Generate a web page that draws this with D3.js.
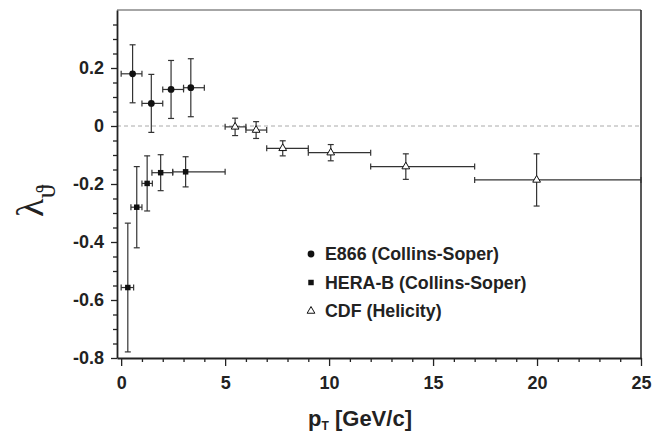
<!DOCTYPE html>
<html>
<head>
<meta charset="utf-8">
<script src="https://cdn.jsdelivr.net/npm/d3@7"></script>
<style>
  body { margin: 0; background: #fff; }
  svg { display: block; }
  .tick text { font-family: "Liberation Sans", Arial, sans-serif; font-weight: bold; font-size: 18px; fill: #222; }
</style>
</head>
<body>
<script>
// E866 (Collins-Soper)
const e866X = [0.55, 1.45, 2.4, 3.35];
const e866Y = [0.18, 0.078, 0.126, 0.132];
const e866XLo = [0, 1, 2, 3];
const e866XHi = [1, 2, 3, 4];
const e866Err = [0.10, 0.10, 0.10, 0.10];

// HERA-B (Collins-Soper)
const herabX = [0.32, 0.75, 1.25, 1.9, 3.1];
const herabY = [-0.557, -0.28, -0.198, -0.161, -0.158];
const herabXLo = [0, 0.47, 1.0, 1.48, 2.48];
const herabXHi = [0.6, 1.0, 1.5, 2.48, 5.0];
const herabErr = [0.222, 0.14, 0.095, 0.062, 0.052];

// CDF (Helicity)
const cdfX = [5.48, 6.49, 7.77, 10.08, 13.69, 19.98];
const cdfY = [-0.003, -0.014, -0.077, -0.092, -0.140, -0.186];
const cdfXLo = [5, 6, 7, 9, 12, 17];
const cdfXHi = [6, 7, 9, 12, 17, 25];
const cdfErr = [0.03, 0.029, 0.026, 0.028, 0.044, 0.09];

const xMajor = [0, 5, 10, 15, 20, 25];
const yMajor = [-0.8, -0.6, -0.4, -0.2, 0, 0.2];
const legendLabels = ["E866 (Collins-Soper)", "HERA-B (Collins-Soper)", "CDF (Helicity)"];

const w = 663, h = 437;
const plotL = 117, plotR = 641, plotT = 10, plotB = 358;

const svg = d3.select("body").append("svg")
  .attr("width", w)
  .attr("height", h);

const x = d3.scaleLinear().domain([-0.2, 25]).range([plotL, plotR]);
const y = d3.scaleLinear().domain([-0.8, 0.4]).range([plotB, plotT]);

// zero line
svg.append("line")
  .attr("x1", plotL).attr("x2", plotR)
  .attr("y1", y(0)).attr("y2", y(0))
  .attr("stroke", "#aaa")
  .attr("stroke-width", 1)
  .attr("stroke-dasharray", "4,3");

// frame top / right
svg.append("line")
  .attr("x1", plotL).attr("x2", plotR)
  .attr("y1", plotT).attr("y2", plotT)
  .attr("stroke", "#888").attr("stroke-width", 1.5);
svg.append("line")
  .attr("x1", plotR).attr("x2", plotR)
  .attr("y1", plotT).attr("y2", plotB)
  .attr("stroke", "#222").attr("stroke-width", 1.5);

// minor ticks
const xMinor = d3.range(0, 26, 1).filter(d => d % 5 !== 0);
const yMinor = d3.range(-0.75, 0.4, 0.05).filter(d => Math.abs(Math.round(d * 20)) % 4 !== 0);

svg.append("g")
  .attr("transform", "translate(0," + plotB + ")")
  .call(d3.axisBottom(x).tickValues(xMinor).tickSize(4).tickFormat("").tickSizeOuter(0))
  .call(g => g.select(".domain").remove());
svg.append("g")
  .attr("transform", "translate(" + plotL + ",0)")
  .call(d3.axisLeft(y).tickValues(yMinor).tickSize(4).tickFormat("").tickSizeOuter(0))
  .call(g => g.select(".domain").remove());

// major axes
const xAxis = svg.append("g")
  .attr("transform", "translate(0," + plotB + ")")
  .call(d3.axisBottom(x).tickValues(xMajor).tickSize(8).tickPadding(10).tickSizeOuter(0));
const yAxis = svg.append("g")
  .attr("transform", "translate(" + plotL + ",0)")
  .call(d3.axisLeft(y).tickValues(yMajor).tickSize(6).tickPadding(7).tickSizeOuter(0)
    .tickFormat(d => d === 0 ? "0" : d.toFixed(1)));

[xAxis, yAxis].forEach(g => {
  g.selectAll(".domain").attr("stroke", "#222").attr("stroke-width", 1.8);
});
svg.selectAll(".tick line").attr("stroke", "#222").attr("stroke-width", 1.3);

// error bars
function errorBars(xs, ys, xlo, xhi, err) {
  const g = svg.append("g").attr("stroke", "#333").attr("stroke-width", 1.2).attr("fill", "none");
  xs.forEach((d, i) => {
    const cx = x(d), cy = y(ys[i]);
    const x0 = x(xlo[i]), x1 = x(xhi[i]);
    const y0 = y(ys[i] + err[i]), y1 = y(ys[i] - err[i]);
    g.append("line").attr("x1", x0).attr("x2", x1).attr("y1", cy).attr("y2", cy);
    g.append("line").attr("x1", x0).attr("x2", x0).attr("y1", cy - 3).attr("y2", cy + 3);
    g.append("line").attr("x1", x1).attr("x2", x1).attr("y1", cy - 3).attr("y2", cy + 3);
    g.append("line").attr("x1", cx).attr("x2", cx).attr("y1", y0).attr("y2", y1);
    g.append("line").attr("x1", cx - 3).attr("x2", cx + 3).attr("y1", y0).attr("y2", y0);
    g.append("line").attr("x1", cx - 3).attr("x2", cx + 3).attr("y1", y1).attr("y2", y1);
  });
}
errorBars(e866X, e866Y, e866XLo, e866XHi, e866Err);
errorBars(herabX, herabY, herabXLo, herabXHi, herabErr);
errorBars(cdfX, cdfY, cdfXLo, cdfXHi, cdfErr);

const circle = d3.symbol().type(d3.symbolCircle).size(36);
const square = d3.symbol().type(d3.symbolSquare).size(30);
const triangle = d3.symbol().type(d3.symbolTriangle).size(26);

svg.append("g").selectAll("path")
  .data(e866X).enter().append("path")
  .attr("d", circle)
  .attr("transform", (d, i) => "translate(" + x(d) + "," + y(e866Y[i]) + ")")
  .attr("fill", "#111");
svg.append("g").selectAll("path")
  .data(herabX).enter().append("path")
  .attr("d", square)
  .attr("transform", (d, i) => "translate(" + x(d) + "," + y(herabY[i]) + ")")
  .attr("fill", "#111");
svg.append("g").selectAll("path")
  .data(cdfX).enter().append("path")
  .attr("d", triangle)
  .attr("transform", (d, i) => "translate(" + x(d) + "," + y(cdfY[i]) + ")")
  .attr("fill", "#fff").attr("stroke", "#111").attr("stroke-width", 1);

// legend
const legendSymbols = [circle, square, triangle];
const legend = svg.append("g").attr("transform", "translate(311,254)");
legendLabels.forEach((lab, i) => {
  const row = legend.append("g").attr("transform", "translate(0," + (i * 28.5) + ")");
  row.append("path")
    .attr("d", legendSymbols[i])
    .attr("fill", i === 2 ? "#fff" : "#111")
    .attr("stroke", i === 2 ? "#111" : "none");
  row.append("text")
    .attr("x", 14)
    .attr("dy", "0.36em")
    .style("font-family", "Liberation Sans, Arial, sans-serif")
    .style("font-weight", "bold")
    .style("font-size", "17.8px")
    .attr("fill", "#222")
    .text(lab);
});

// x title
const xt = svg.append("text")
  .attr("x", 360)
  .attr("y", 426)
  .attr("text-anchor", "middle")
  .style("font-family", "Liberation Sans, Arial, sans-serif")
  .style("font-weight", "bold")
  .style("font-size", "22px")
  .attr("fill", "#222");
xt.append("tspan").text("p");
xt.append("tspan").attr("dy", 4).style("font-size", "12px").text("T");
xt.append("tspan").attr("dy", -4).text(" [GeV/c]");

// y title
const yt = svg.append("text")
  .attr("transform", "translate(43,217) rotate(-90)")
  .style("font-family", "Liberation Serif, serif")
  .style("font-size", "38px")
  .attr("fill", "#222");
yt.append("tspan").text("λ");
yt.append("tspan").attr("dy", 12).style("font-size", "28px").text("ϑ");
</script>
</body>
</html>
